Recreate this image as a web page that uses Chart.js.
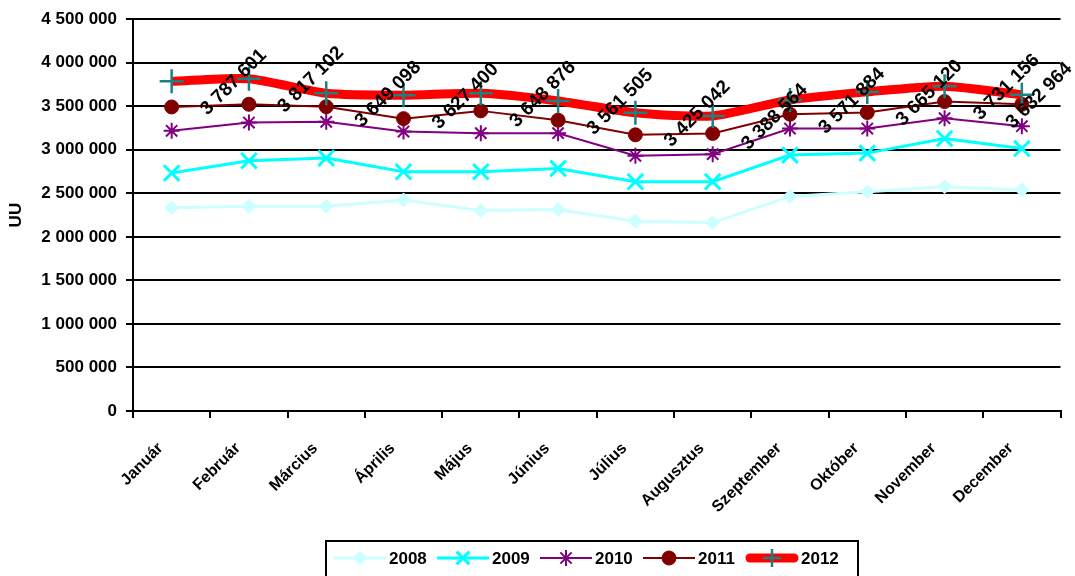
<!DOCTYPE html>
<html>
<head>
<meta charset="utf-8">
<script src="https://cdn.jsdelivr.net/npm/chart.js@4.4.1/dist/chart.umd.min.js"></script>
<style>
  html, body { margin: 0; padding: 0; background: #fff; }
  #wrap { width: 1075px; height: 576px; overflow: hidden; }
</style>
</head>
<body>
<div id="wrap"><canvas id="c" width="1075" height="576"></canvas></div>
<script>
// Monthly unique users (UU), 2008–2012
const months = ['Január', 'Február', 'Március', 'Április', 'Május', 'Június',
                'Július', 'Augusztus', 'Szeptember', 'Október', 'November', 'December'];
const uu2008 = [2333000, 2351000, 2351000, 2424000, 2302000, 2313000, 2179000, 2164000, 2465000, 2519000, 2576000, 2539000];
const uu2009 = [2733000, 2874000, 2905000, 2748000, 2748000, 2786000, 2634000, 2634000, 2939000, 2962000, 3130000, 3015000];
const uu2010 = [3218000, 3313000, 3321000, 3210000, 3191000, 3191000, 2931000, 2950000, 3244000, 3244000, 3363000, 3271000];
const uu2011 = [3492000, 3523000, 3495000, 3358000, 3447000, 3340000, 3172000, 3188000, 3409000, 3428000, 3554000, 3523000];
const uu2012 = [3787601, 3817102, 3649098, 3627400, 3648876, 3561505, 3425042, 3388564, 3571884, 3665120, 3731156, 3632964];
const yearLabels = ['2008', '2009', '2010', '2011', '2012'];

const FONT = '"Liberation Sans", Arial, sans-serif';
const fmt = v => String(Math.round(v)).replace(/\B(?=(\d{3})+(?!\d))/g, ' ');

// marker glyphs shared by the custom legend
function drawMarker(ctx, style, x, y, r, fill, stroke, lw) {
  ctx.save();
  ctx.fillStyle = fill; ctx.strokeStyle = stroke; ctx.lineWidth = lw;
  ctx.beginPath();
  const d = r * Math.SQRT1_2;
  if (style === 'rectRot') {
    ctx.moveTo(x, y - r); ctx.lineTo(x + r, y); ctx.lineTo(x, y + r); ctx.lineTo(x - r, y); ctx.closePath();
    ctx.fill(); ctx.stroke();
  } else if (style === 'crossRot') {
    ctx.moveTo(x - d, y - d); ctx.lineTo(x + d, y + d); ctx.moveTo(x - d, y + d); ctx.lineTo(x + d, y - d); ctx.stroke();
  } else if (style === 'star') {
    ctx.moveTo(x - r, y); ctx.lineTo(x + r, y); ctx.moveTo(x, y - r); ctx.lineTo(x, y + r);
    ctx.moveTo(x - d, y - d); ctx.lineTo(x + d, y + d); ctx.moveTo(x - d, y + d); ctx.lineTo(x + d, y - d); ctx.stroke();
  } else if (style === 'circle') {
    ctx.arc(x, y, r, 0, Math.PI * 2); ctx.fill(); ctx.stroke();
  } else if (style === 'cross') {
    ctx.moveTo(x - r, y); ctx.lineTo(x + r, y); ctx.moveTo(x, y - r); ctx.lineTo(x, y + r); ctx.stroke();
  }
  ctx.restore();
}

// rotated value labels next to the 2012 points
const valueLabels = {
  id: 'valueLabels',
  afterDatasetsDraw(chart) {
    const ctx = chart.ctx;
    const idx = chart.data.datasets.findIndex(d => d.label === '2012');
    const meta = chart.getDatasetMeta(idx);
    const values = chart.data.datasets[idx].data;
    ctx.save();
    ctx.font = 'bold 19px ' + FONT;
    ctx.fillStyle = '#000';
    ctx.textAlign = 'center';
    ctx.textBaseline = 'middle';
    meta.data.forEach((pt, i) => {
      const txt = fmt(values[i]);
      const w = ctx.measureText(txt).width;
      const half = (w / 2 + 7) * Math.SQRT1_2;
      let cx = pt.x + 62;
      cx = Math.min(cx, chart.width - 1 - half);
      ctx.save();
      ctx.translate(cx, pt.y + 1);
      ctx.rotate(-Math.PI / 4);
      ctx.fillText(txt, 0, 0);
      ctx.restore();
    });
    ctx.restore();
  }
};

// boxed legend below the axis
const boxLegend = {
  id: 'boxLegend',
  afterDraw(chart) {
    const ctx = chart.ctx;
    const left = 326, top = 541, right = 858;
    ctx.save();
    ctx.strokeStyle = '#000';
    ctx.lineWidth = 2;
    ctx.strokeRect(left, top, right - left, 60);
    ctx.font = 'bold 17px ' + FONT;
    ctx.textBaseline = 'middle';
    ctx.textAlign = 'left';
    const cy = 558;
    let x = 334;
    chart.data.datasets.slice().sort((a, b) => a.label.localeCompare(b.label)).forEach(ds => {
      ctx.save();
      ctx.strokeStyle = ds.borderColor;
      ctx.lineWidth = ds.borderWidth;
      ctx.lineCap = ds.label === '2012' ? 'round' : 'butt';
      const x0 = ds.label === '2012' ? x + 4 : x, x1 = ds.label === '2012' ? x + 48 : x + 52;
      ctx.beginPath(); ctx.moveTo(x0, cy); ctx.lineTo(x1, cy); ctx.stroke();
      ctx.restore();
      drawMarker(ctx, ds.pointStyle, x + 26, cy, Math.min(ds.pointRadius, 9),
                 ds.pointBackgroundColor, ds.pointBorderColor, ds.pointBorderWidth);
      ctx.fillStyle = '#000';
      ctx.fillText(ds.label, x + 55, cy + 1);
      x += 103;
    });
    ctx.restore();
  }
};

const seriesData = [uu2008, uu2009, uu2010, uu2011, uu2012];
const styles = [
  { color: '#CCFFFF', fill: '#CCFFFF', mark: '#CCFFFF', width: 3, point: 'rectRot', r: 7, pw: 1, tension: 0 },
  { color: '#00FFFF', fill: '#00FFFF', mark: '#00FFFF', width: 3, point: 'crossRot', r: 11, pw: 3, tension: 0 },
  { color: '#800080', fill: '#800080', mark: '#800080', width: 2, point: 'star', r: 8, pw: 2, tension: 0 },
  { color: '#800000', fill: '#800000', mark: '#800000', width: 2, point: 'circle', r: 7, pw: 1, tension: 0 },
  { color: '#FF0000', fill: '#008080', mark: '#1A8080', width: 9, point: 'cross', r: 12, pw: 2.5, tension: 0.22 }
];

const datasets = yearLabels.map((lab, i) => ({
  label: lab,
  data: seriesData[i],
  borderColor: styles[i].color,
  backgroundColor: styles[i].color,
  borderWidth: styles[i].width,
  pointStyle: styles[i].point,
  pointRadius: styles[i].r,
  pointBackgroundColor: styles[i].fill,
  pointBorderColor: styles[i].mark,
  pointBorderWidth: styles[i].pw,
  tension: styles[i].tension,
  fill: false,
  order: yearLabels.length - i
}));

new Chart(document.getElementById('c'), {
  type: 'line',
  data: { labels: months, datasets },
  options: {
    responsive: false,
    animation: false,
    devicePixelRatio: 1,
    layout: { padding: { top: 18, right: 10, bottom: 0, left: 0 } },
    plugins: { legend: { display: false }, tooltip: { enabled: false } },
    scales: {
      x: {
        offset: true,
        grid: { display: true, drawOnChartArea: false, drawTicks: true, tickLength: 7, color: '#000', lineWidth: 2, offset: true },
        border: { display: true, color: '#000', width: 2 },
        ticks: {
          autoSkip: false, minRotation: 45, maxRotation: 45, padding: 21, labelOffset: -11,
          color: '#000', font: { family: FONT, size: 16, weight: 'bold' }
        },
        afterFit(scale) { scale.height = 165; }
      },
      y: {
        min: 0, max: 4500000,
        grid: { color: '#000', lineWidth: 2, tickLength: 7, drawTicks: true },
        border: { display: true, color: '#000', width: 2 },
        ticks: {
          stepSize: 500000, padding: 9, color: '#000',
          font: { family: FONT, size: 17, weight: 'bold' },
          callback: v => fmt(v)
        },
        title: { display: true, text: 'UU', color: '#000', font: { family: FONT, size: 17, weight: 'bold' }, padding: { top: 6, bottom: 0 } },
        afterFit(scale) { scale.width = 133; }
      }
    }
  },
  plugins: [valueLabels, boxLegend]
});
</script>
</body>
</html>
